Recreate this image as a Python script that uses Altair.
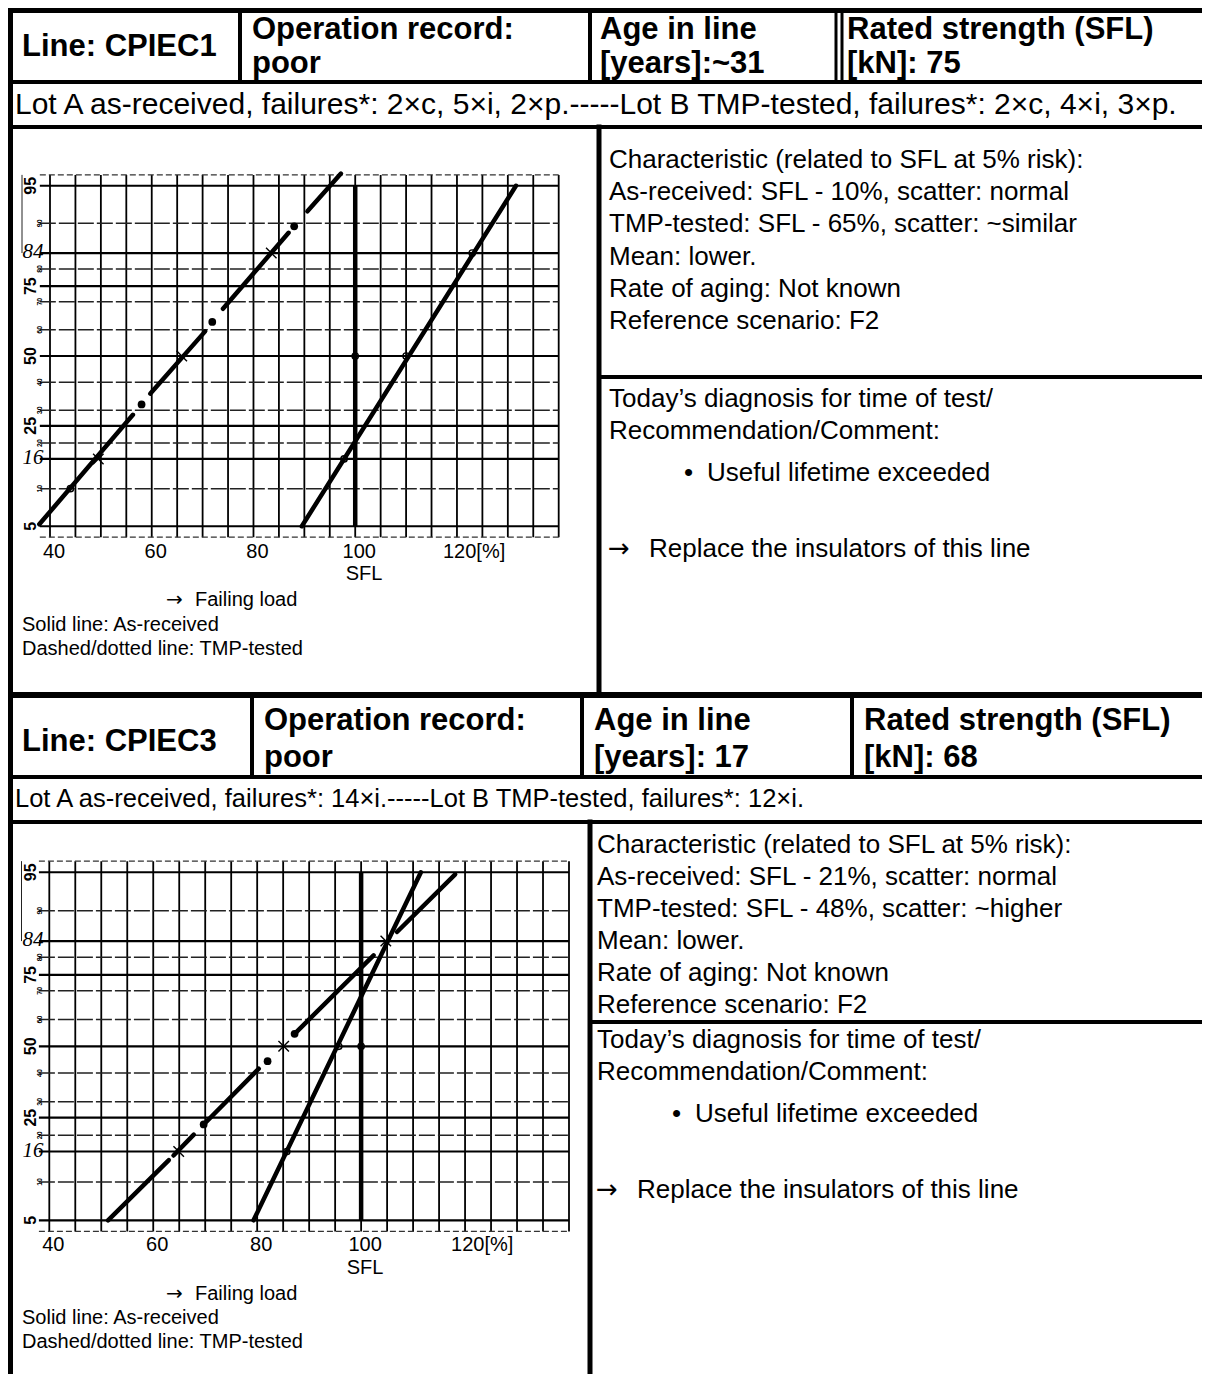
import altair as alt
import pandas as pd

# ------------------------------------------------------------------
# Values
# ------------------------------------------------------------------
# probability-paper grid
GRID_LOAD = list(range(40, 145, 5))                 # vertical grid lines [% SFL]
P_MAJOR = [5, 16, 25, 50, 75, 84, 95]               # heavier horizontal lines [%]
P_MINOR = [10, 20, 30, 40, 60, 70, 80, 90]          # lighter horizontal lines [%]
LBL_BOLD = [5, 25, 50, 75, 95]
LBL_SMALL = [10, 20, 30, 40, 60, 70, 80, 90]
LBL_HAND = [16, 84]
XTICK_VAL = [40, 60, 80, 100]
XTICK_TXT = ["40", "60", "80", "100"]
XTICK_LAST_VAL = [120]
XTICK_LAST_TXT = ["120[%]"]
SFL_VAL = [100]

# --- CPIEC1 ---
AR1_P = [5, 95]
AR1_L = [89.5, 131.6]
AR1_CIRC_P = [16, 50, 84, 50]
AR1_CIRC_L = [97.8, 110.0, 123.0, 100.0]
TMP1_P1 = [5.2, 35.8, 67.6, 91.9]
TMP1_L1 = [37.9, 59.7, 74.0, 90.6]
TMP1_P2 = [28.5, 59.4, 88.3, 96.1]
TMP1_L2 = [56.3, 70.5, 86.9, 97.2]
TMP1_DOT_P = [32.0, 62.9, 89.5]
TMP1_DOT_L = [58.0, 71.9, 88.0]
TMP1_X_P = [16, 50, 84]
TMP1_X_L = [49.5, 65.9, 83.5]
TMP1_CIRC_P = [10]
TMP1_CIRC_L = [44.0]

# --- CPIEC3 ---
AR2_P = [5, 95]
AR2_L = [79.3, 111.5]
AR2_CIRC_P = [16, 50, 50]
AR2_CIRC_L = [85.7, 95.7, 100.0]
TMP2_P1 = [5.0, 15.1, 23.0, 54.7, 86.0]
TMP2_L1 = [51.3, 63.9, 69.7, 87.2, 106.9]
TMP2_P2 = [14.1, 20.2, 41.6, 80.5, 94.8]
TMP2_L2 = [63.0, 67.8, 80.3, 102.4, 118.1]
TMP2_DOT_P = [23.0, 44.4, 54.7]
TMP2_DOT_L = [69.7, 82.0, 87.2]
TMP2_X_P = [16, 50, 84]
TMP2_X_L = [64.9, 85.1, 104.75]

# texts
HEAD1 = ["Line: CPIEC1", "Operation record:", "poor", "Age in line",
         "[years]:~31", "Rated strength (SFL)", "[kN]: 75"]
HEAD2 = ["Line: CPIEC3", "Operation record:", "poor", "Age in line",
         "[years]: 17", "Rated strength (SFL)", "[kN]: 68"]
LOTS1 = "Lot A as-received, failures*: 2×c, 5×i, 2×p.-----Lot B TMP-tested, failures*: 2×c, 4×i, 3×p."
LOTS2 = "Lot A as-received, failures*: 14×i.-----Lot B TMP-tested, failures*: 12×i."
CHAR1 = ["Characteristic (related to SFL at 5% risk):",
         "As-received: SFL - 10%, scatter: normal",
         "TMP-tested: SFL - 65%, scatter: ~similar",
         "Mean: lower.", "Rate of aging: Not known", "Reference scenario: F2"]
CHAR2 = ["Characteristic (related to SFL at 5% risk):",
         "As-received: SFL - 21%, scatter: normal",
         "TMP-tested: SFL - 48%, scatter: ~higher",
         "Mean: lower.", "Rate of aging: Not known", "Reference scenario: F2"]
DIAG = ["Today’s diagnosis for time of test/", "Recommendation/Comment:"]
BULLET = ["•", "Useful lifetime exceeded"]
ARROW = "→"
ACTION = "Replace the insulators of this line"
PLOT_TXT = ["SFL", "Failing load", "Solid line: As-received", "Dashed/dotted line: TMP-tested"]

# ------------------------------------------------------------------
# Layout (page pixels of the reference sheet)
# ------------------------------------------------------------------
OFF = 6
W, H = 1194, 1366
FONT = "Liberation Sans, Arial, sans-serif"
AFONT = "DejaVu Sans, sans-serif"
ZLIM = 1.75


def sx_page():
    return alt.Scale(domain=[OFF, OFF + W], range=[0, W])


def sy_page():
    return alt.Scale(domain=[OFF, OFF + H], range=[0, H])


BORDERS = [
    (3, 8.5, 1215, 8.5, 5), (3, 80, 1215, 80, 4), (3, 125, 1215, 125, 4),
    (597, 375, 1215, 375, 4), (3, 693, 1215, 693, 6),
    (3, 775, 1215, 775, 4), (3, 820, 1215, 820, 4), (588, 1020, 1215, 1020, 4),
    (8.5, 3, 8.5, 1390, 5),
    (238, 5, 238, 80, 4), (588, 5, 588, 80, 4), (834, 5, 834, 80, 3), (840, 5, 840, 80, 3),
    (597, 125, 597, 693, 5),
    (250, 693, 250, 775, 4), (580, 693, 580, 775, 4), (850, 693, 850, 775, 4),
    (588, 820, 588, 1390, 5),
]

layers = []

bdf = pd.DataFrame(BORDERS, columns=["x1", "y1", "x2", "y2", "w"])
layers.append(
    alt.Chart(bdf).mark_rule(color="black", strokeCap="square").encode(
        x=alt.X("x1:Q", scale=sx_page(), axis=None), x2="x2:Q",
        y=alt.Y("y1:Q", scale=sy_page(), axis=None), y2="y2:Q",
        size=alt.Size("w:Q", scale=None, legend=None),
    )
)


def text_layer(rows, weight="normal", style="normal", font=FONT, align="left"):
    df = pd.DataFrame(rows, columns=["t", "x", "y", "fs"])
    return alt.Chart(df).mark_text(
        align=align, baseline="middle", font=font, fontWeight=weight,
        fontStyle=style, color="black"
    ).encode(
        x=alt.X("x:Q", scale=sx_page(), axis=None),
        y=alt.Y("y:Q", scale=sy_page(), axis=None),
        text="t:N",
        size=alt.Size("fs:Q", scale=None, legend=None),
    )


HF, BF, LF, SF = 31, 26, 20, 20
bold_rows, reg_rows, center_rows, arrow_rows = [], [], [], []

# section 1
hx1 = [(20, 45), (250, 28), (250, 62), (598, 28), (598, 62), (845, 28), (845, 62)]
for t, (x, y) in zip(HEAD1, hx1):
    bold_rows.append((t, x, y, HF))
reg_rows.append((LOTS1, 13, 103, 30))
for i, t in enumerate(CHAR1):
    reg_rows.append((t, 607, 158 + 32.2 * i, BF))
for i, t in enumerate(DIAG):
    reg_rows.append((t, 607, 397 + 32 * i, BF))
reg_rows.append((BULLET[0], 682, 471, BF))
reg_rows.append((BULLET[1], 705, 471, BF))
arrow_rows.append((ARROW, 606, 547, BF))
reg_rows.append((ACTION, 647, 547, BF))
center_rows.append((PLOT_TXT[0], 362, 572, LF))
arrow_rows.append((ARROW, 164, 598, SF))
reg_rows.append((PLOT_TXT[1], 193, 598, SF))
reg_rows.append((PLOT_TXT[2], 20, 623, SF))
reg_rows.append((PLOT_TXT[3], 20, 647, SF))

# section 2
hx2 = [(20, 740), (262, 719), (262, 756), (592, 719), (592, 756), (862, 719), (862, 756)]
for t, (x, y) in zip(HEAD2, hx2):
    bold_rows.append((t, x, y, HF))
reg_rows.append((LOTS2, 13, 797, 25.5))
for i, t in enumerate(CHAR2):
    reg_rows.append((t, 595, 843 + 32 * i, BF))
for i, t in enumerate(DIAG):
    reg_rows.append((t, 595, 1038 + 32 * i, BF))
reg_rows.append((BULLET[0], 670, 1112, BF))
reg_rows.append((BULLET[1], 693, 1112, BF))
arrow_rows.append((ARROW, 594, 1188, BF))
reg_rows.append((ACTION, 635, 1188, BF))
center_rows.append((PLOT_TXT[0], 363, 1266, LF))
arrow_rows.append((ARROW, 164, 1292, SF))
reg_rows.append((PLOT_TXT[1], 193, 1292, SF))
reg_rows.append((PLOT_TXT[2], 20, 1316, SF))
reg_rows.append((PLOT_TXT[3], 20, 1340, SF))


def plot_layers(cfg, ar_p, ar_l, arc_p, arc_l, t_p1, t_l1, t_p2, t_l2,
                dot_p, dot_l, x_p, x_l, tc_p=None, tc_l=None):
    sx = lambda: alt.Scale(domain=[40, 140], range=[cfg["x40"] - OFF, cfg["x140"] - OFF])
    y50, k = cfg["y50"], cfg["kz"]
    sy = lambda: alt.Scale(domain=[-ZLIM, ZLIM],
                           range=[y50 + ZLIM * k - OFF, y50 - ZLIM * k - OFF])
    Z = "quantileNormal(datum.p / 100)"
    out = []
    # vertical grid
    out.append(alt.Chart(pd.DataFrame({"load": GRID_LOAD})).mark_rule(
        color="#000", strokeWidth=1.8).encode(
        x=alt.X("load:Q", scale=sx(), axis=None),
        y=alt.YDatum(-ZLIM, scale=sy(), axis=None), y2=alt.Y2Datum(ZLIM)))
    # horizontal grid: minor
    out.append(alt.Chart(pd.DataFrame({"p": P_MINOR})).transform_calculate(z=Z).mark_rule(
        color="#222", strokeWidth=1.5, strokeDash=[16, 3]).encode(
        y=alt.Y("z:Q", scale=sy(), axis=None),
        x=alt.XDatum(38, scale=sx(), axis=None), x2=alt.X2Datum(140)))
    # horizontal grid: major
    out.append(alt.Chart(pd.DataFrame({"p": P_MAJOR})).transform_calculate(z=Z).mark_rule(
        color="#000", strokeWidth=2.2).encode(
        y=alt.Y("z:Q", scale=sy(), axis=None),
        x=alt.XDatum(38, scale=sx(), axis=None), x2=alt.X2Datum(140)))
    # top / bottom paper edge
    out.append(alt.Chart(pd.DataFrame({"z": [-ZLIM, ZLIM]})).mark_rule(
        color="#333", strokeWidth=1.3, strokeDash=[6, 3]).encode(
        y=alt.Y("z:Q", scale=sy(), axis=None),
        x=alt.XDatum(38, scale=sx(), axis=None), x2=alt.X2Datum(140)))
    # label-strip frame line
    out.append(alt.Chart(pd.DataFrame({"p": [84]})).transform_calculate(z=Z).mark_rule(
        color="#222", strokeWidth=1).encode(
        x=alt.value(cfg["frame_x"] - OFF),
        y=alt.Y("z:Q", scale=sy(), axis=None), y2=alt.Y2Datum(ZLIM)))
    # SFL (100 %) line
    out.append(alt.Chart(pd.DataFrame({"load": SFL_VAL, "p1": [5], "p2": [95]})).transform_calculate(
        z1="quantileNormal(datum.p1 / 100)", z2="quantileNormal(datum.p2 / 100)").mark_rule(
        color="black", strokeWidth=4.5).encode(
        x=alt.X("load:Q", scale=sx(), axis=None),
        y=alt.Y("z1:Q", scale=sy(), axis=None), y2="z2:Q"))
    # as-received solid line
    out.append(alt.Chart(pd.DataFrame({"p": ar_p, "load": ar_l})).transform_calculate(z=Z).mark_line(
        color="black", strokeWidth=4.5, strokeCap="round").encode(
        x=alt.X("load:Q", scale=sx(), axis=None),
        y=alt.Y("z:Q", scale=sy(), axis=None), order="p:Q"))
    # TMP-tested dashed/dotted line
    out.append(alt.Chart(pd.DataFrame({"p1": t_p1, "l1": t_l1, "p2": t_p2, "l2": t_l2})).transform_calculate(
        z1="quantileNormal(datum.p1 / 100)", z2="quantileNormal(datum.p2 / 100)").mark_rule(
        color="black", strokeWidth=4.5, strokeCap="round").encode(
        x=alt.X("l1:Q", scale=sx(), axis=None), x2="l2:Q",
        y=alt.Y("z1:Q", scale=sy(), axis=None), y2="z2:Q"))
    out.append(alt.Chart(pd.DataFrame({"p": dot_p, "load": dot_l})).transform_calculate(z=Z).mark_circle(
        color="black", size=60, opacity=1).encode(
        x=alt.X("load:Q", scale=sx(), axis=None),
        y=alt.Y("z:Q", scale=sy(), axis=None)))
    out.append(alt.Chart(pd.DataFrame({"p": x_p, "load": x_l})).transform_calculate(z=Z).mark_point(
        shape="M-1,-1L1,1M-1,1L1,-1", filled=False, color="black", size=110,
        strokeWidth=1.4, opacity=1).encode(
        x=alt.X("load:Q", scale=sx(), axis=None),
        y=alt.Y("z:Q", scale=sy(), axis=None)))
    cp = list(arc_p) + (list(tc_p) if tc_p else [])
    cl = list(arc_l) + (list(tc_l) if tc_l else [])
    out.append(alt.Chart(pd.DataFrame({"p": cp, "load": cl})).transform_calculate(z=Z).mark_point(
        shape="circle", filled=False, color="black", size=40, strokeWidth=1.4, opacity=1).encode(
        x=alt.X("load:Q", scale=sx(), axis=None),
        y=alt.Y("z:Q", scale=sy(), axis=None)))
    # probability labels
    out.append(alt.Chart(pd.DataFrame({"p": LBL_BOLD})).transform_calculate(z=Z, t="'' + datum.p").mark_text(
        angle=270, font=FONT, fontWeight="bold", fontSize=16, baseline="middle", align="center",
        color="black").encode(
        x=alt.value(cfg["bold_x"] - OFF), y=alt.Y("z:Q", scale=sy(), axis=None), text="t:N"))
    out.append(alt.Chart(pd.DataFrame({"p": LBL_SMALL})).transform_calculate(z=Z, t="'' + datum.p").mark_text(
        angle=270, font=FONT, fontWeight="bold", fontSize=7, baseline="middle", align="center",
        color="black").encode(
        x=alt.value(cfg["small_x"] - OFF), y=alt.Y("z:Q", scale=sy(), axis=None), text="t:N"))
    out.append(alt.Chart(pd.DataFrame({"p": LBL_HAND})).transform_calculate(z=Z, t="'' + datum.p").mark_text(
        font="Liberation Serif, serif", fontStyle="italic", fontSize=21, baseline="middle",
        align="center", color="black", dy=-1).encode(
        x=alt.value(cfg["hand_x"] - OFF), y=alt.Y("z:Q", scale=sy(), axis=None), text="t:N"))
    # x tick labels
    out.append(alt.Chart(pd.DataFrame({"v": XTICK_VAL, "t": XTICK_TXT})).mark_text(
        font=FONT, fontSize=LF, baseline="middle", align="center", dx=4, color="black").encode(
        x=alt.X("v:Q", scale=sx(), axis=None), y=alt.value(cfg["tick_y"] - OFF), text="t:N"))
    out.append(alt.Chart(pd.DataFrame({"v": XTICK_LAST_VAL, "t": XTICK_LAST_TXT})).mark_text(
        font=FONT, fontSize=LF, baseline="middle", align="left", dx=-14, color="black").encode(
        x=alt.X("v:Q", scale=sx(), axis=None), y=alt.value(cfg["tick_y"] - OFF), text="t:N"))
    return out


cfg1 = dict(x40=48, x140=556.7, y50=354, kz=103.5, bold_x=29, small_x=37.5,
            hand_x=31, tick_y=550, frame_x=20)
cfg2 = dict(x40=47.3, x140=567, y50=1044.3, kz=105.8, bold_x=29, small_x=37.5,
            hand_x=31, tick_y=1243, frame_x=19.5)

layers += plot_layers(cfg1, AR1_P, AR1_L, AR1_CIRC_P, AR1_CIRC_L,
                      TMP1_P1, TMP1_L1, TMP1_P2, TMP1_L2,
                      TMP1_DOT_P, TMP1_DOT_L, TMP1_X_P, TMP1_X_L,
                      TMP1_CIRC_P, TMP1_CIRC_L)
layers += plot_layers(cfg2, AR2_P, AR2_L, AR2_CIRC_P, AR2_CIRC_L,
                      TMP2_P1, TMP2_L1, TMP2_P2, TMP2_L2,
                      TMP2_DOT_P, TMP2_DOT_L, TMP2_X_P, TMP2_X_L)

layers.append(text_layer(bold_rows, weight="bold"))
layers.append(text_layer(reg_rows))
layers.append(text_layer(center_rows, align="center"))
layers.append(text_layer(arrow_rows, font=AFONT))

chart = alt.layer(*layers).resolve_scale(
    x="independent", y="independent", size="independent"
).properties(
    width=W, height=H, padding=0,
    autosize=alt.AutoSizeParams(type="none"),
).configure_view(stroke=None)

chart.save("out.html", embed_options={"renderer": "svg", "actions": False})
